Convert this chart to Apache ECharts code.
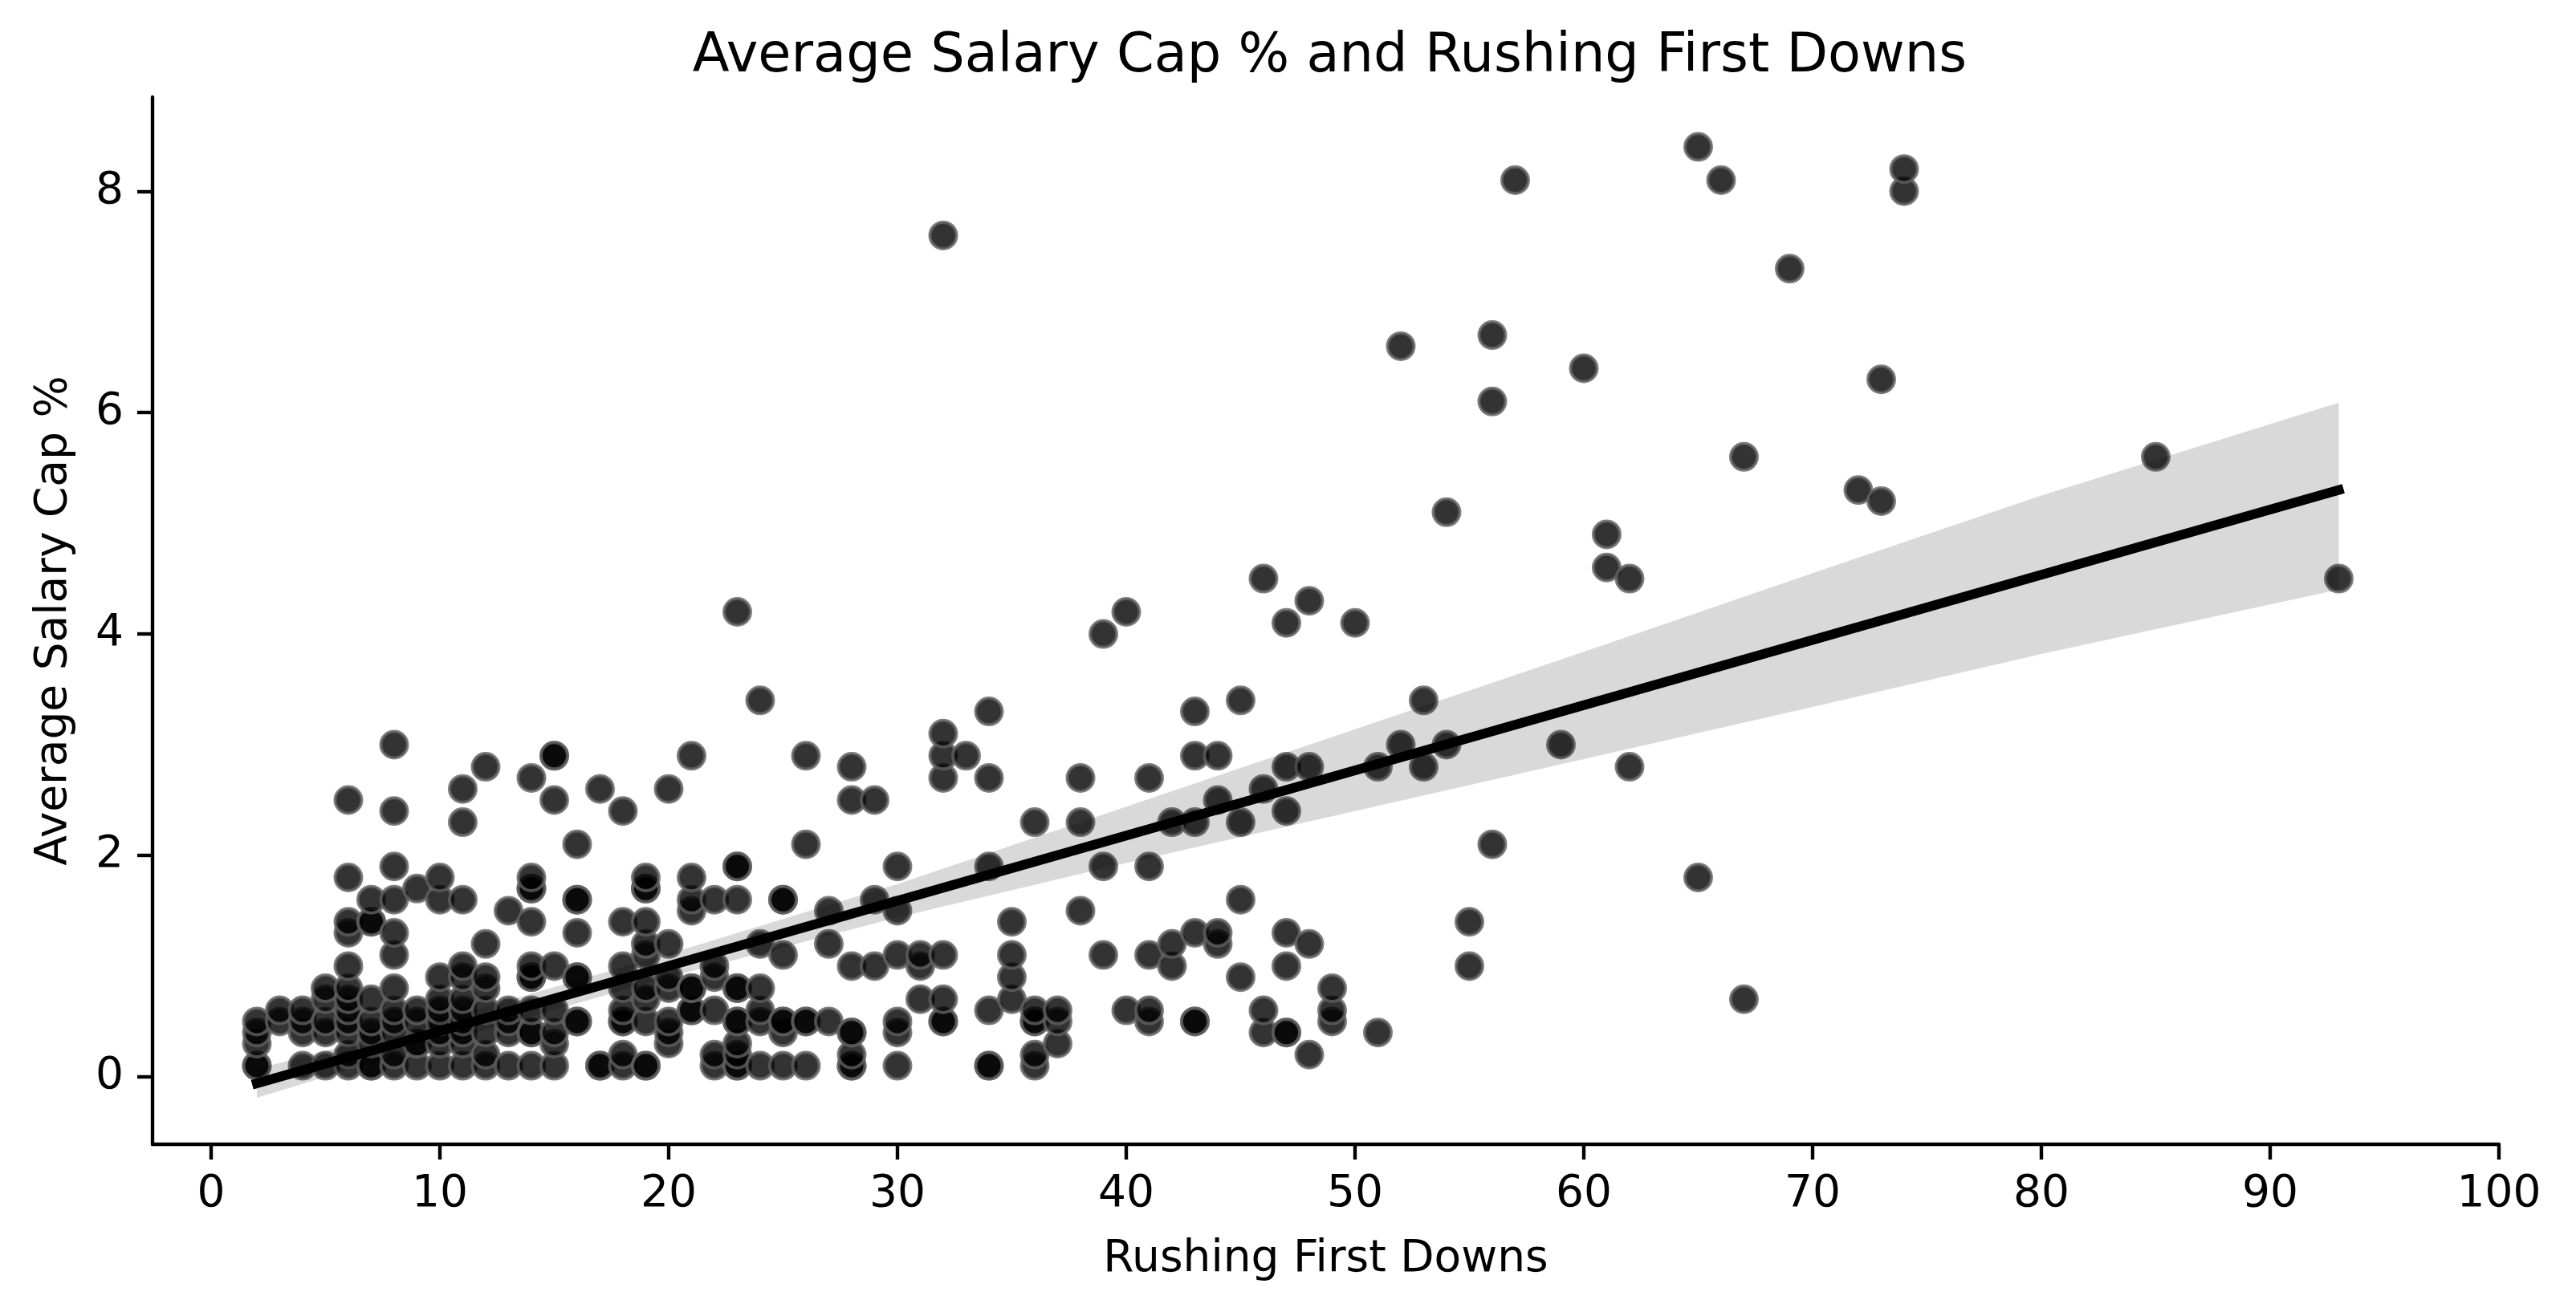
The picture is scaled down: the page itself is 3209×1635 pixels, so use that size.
<!DOCTYPE html>
<html>
<head>
<meta charset="utf-8">
<title>Average Salary Cap % and Rushing First Downs</title>
<script src="https://cdn.jsdelivr.net/npm/echarts@6/dist/echarts.min.js"></script>
<style>
  html, body { margin: 0; padding: 0; background: #ffffff; }
  #main { width: 3209px; height: 1635px; }
</style>
</head>
<body>
<div id="main"></div>
<script>
// rushing first downs (one entry per column of dots)
const colX = [2, 3, 4, 5, 6, 7, 8, 9, 10, 11, 12, 13, 14, 15, 16, 17, 18, 19, 20,
  21, 22, 23, 24, 25, 26, 27, 28, 29, 30, 31, 32, 33, 34, 35, 36, 37, 38, 39, 40,
  41, 42, 43, 44, 45, 46, 47, 48, 49, 50, 51, 52, 53, 54, 55, 56, 57, 59, 60, 61,
  62, 65, 66, 67, 69, 72, 73, 74, 85, 93];
// average salary cap % of the players in each column
const colY = [
  [0.1, 0.1, 0.3, 0.4, 0.5],                                   // 2
  [0.5, 0.6],                                                  // 3
  [0.1, 0.4, 0.5, 0.6],                                        // 4
  [0.1, 0.4, 0.5, 0.7, 0.8],                                   // 5
  [0.1, 0.2, 0.4, 0.5, 0.6, 0.7, 0.8, 1.0, 1.3, 1.4, 1.8, 2.5], // 6
  [0.1, 0.1, 0.3, 0.4, 0.5, 0.7, 1.4, 1.4, 1.6],               // 7
  [0.1, 0.2, 0.4, 0.5, 0.6, 0.8, 1.1, 1.3, 1.6, 1.9, 2.4, 3.0], // 8
  [0.1, 0.3, 0.3, 0.5, 0.6, 1.7],                              // 9
  [0.1, 0.3, 0.4, 0.5, 0.6, 0.7, 0.9, 1.6, 1.8],               // 10
  [0.1, 0.3, 0.4, 0.5, 0.6, 0.7, 0.9, 1.0, 1.6, 2.3, 2.6],     // 11
  [0.1, 0.2, 0.4, 0.6, 0.8, 0.9, 1.2, 2.8],                    // 12
  [0.1, 0.4, 0.5, 0.6, 1.5],                                   // 13
  [0.1, 0.4, 0.4, 0.6, 0.9, 0.9, 1.0, 1.4, 1.7, 1.7, 1.8, 2.7], // 14
  [0.1, 0.3, 0.4, 0.6, 1.0, 2.5, 2.9, 2.9],                    // 15
  [0.5, 0.5, 0.9, 0.9, 1.3, 1.6, 1.6, 2.1],                    // 16
  [0.1, 0.1, 2.6],                                             // 17
  [0.1, 0.2, 0.5, 0.5, 0.6, 0.8, 1.0, 1.4, 2.4],               // 18
  [0.1, 0.1, 0.5, 0.7, 0.8, 1.1, 1.2, 1.4, 1.7, 1.7, 1.8],     // 19
  [0.3, 0.4, 0.5, 0.8, 0.9, 1.2, 2.6],                         // 20
  [0.6, 0.6, 0.8, 0.8, 1.5, 1.6, 1.8, 2.9],                    // 21
  [0.1, 0.2, 0.6, 0.9, 1.0, 1.6],                              // 22
  [0.1, 0.1, 0.2, 0.3, 0.5, 0.5, 0.8, 0.8, 1.6, 1.9, 1.9, 4.2], // 23
  [0.1, 0.5, 0.6, 0.8, 1.2, 3.4],                              // 24
  [0.1, 0.4, 0.5, 0.5, 1.1, 1.6, 1.6],                         // 25
  [0.1, 0.5, 0.5, 2.1, 2.9],                                   // 26
  [0.5, 1.2, 1.5],                                             // 27
  [0.1, 0.1, 0.2, 0.4, 0.4, 1.0, 2.5, 2.8],                    // 28
  [1.0, 1.6, 2.5],                                             // 29
  [0.1, 0.4, 0.5, 1.1, 1.5, 1.9],                              // 30
  [0.7, 1.0, 1.1],                                             // 31
  [0.5, 0.5, 0.7, 1.1, 2.7, 2.9, 3.1, 7.6],                    // 32
  [2.9],                                                       // 33
  [0.1, 0.1, 0.6, 1.9, 2.7, 3.3],                              // 34
  [0.7, 0.9, 1.1, 1.4],                                        // 35
  [0.1, 0.2, 0.5, 0.5, 0.6, 2.3],                              // 36
  [0.3, 0.5, 0.6],                                             // 37
  [1.5, 2.3, 2.7],                                             // 38
  [1.1, 1.9, 4.0],                                             // 39
  [0.6, 4.2],                                                  // 40
  [0.5, 0.6, 1.1, 1.9, 2.7],                                   // 41
  [1.0, 1.2, 2.3],                                             // 42
  [0.5, 0.5, 1.3, 2.3, 2.9, 3.3],                              // 43
  [1.2, 1.3, 2.5, 2.9],                                        // 44
  [0.9, 1.6, 2.3, 3.4],                                        // 45
  [0.4, 0.6, 2.6, 4.5],                                        // 46
  [0.4, 0.4, 1.0, 1.3, 2.4, 2.8, 4.1],                         // 47
  [0.2, 1.2, 2.8, 4.3],                                        // 48
  [0.5, 0.6, 0.8],                                             // 49
  [4.1],                                                       // 50
  [0.4, 2.8],                                                  // 51
  [3.0, 6.6],                                                  // 52
  [2.8, 3.4],                                                  // 53
  [3.0, 5.1],                                                  // 54
  [1.0, 1.4],                                                  // 55
  [2.1, 6.1, 6.7],                                             // 56
  [8.1],                                                       // 57
  [3.0],                                                       // 59
  [6.4],                                                       // 60
  [4.6, 4.9],                                                  // 61
  [2.8, 4.5],                                                  // 62
  [1.8, 8.4],                                                  // 65
  [8.1],                                                       // 66
  [0.7, 5.6],                                                  // 67
  [7.3],                                                       // 69
  [5.3],                                                       // 72
  [5.2, 6.3],                                                  // 73
  [8.0, 8.2],                                                  // 74
  [5.6],                                                       // 85
  [4.5]                                                        // 93
];

// fitted regression line (end points) and its confidence band
const fitX = [2, 93];
const fitY = [-0.06, 5.30];
const bandX = [2, 10, 20, 30, 40, 50, 60, 70, 80, 93];
const bandLo = [-0.19, 0.31, 0.90, 1.44, 1.93, 2.40, 2.87, 3.34, 3.82, 4.40];
const bandHi = [0.07, 0.51, 1.11, 1.74, 2.44, 3.14, 3.84, 4.55, 5.25, 6.09];

// tick labels
const xTicks = [0, 10, 20, 30, 40, 50, 60, 70, 80, 90, 100];
const yTicks = [0, 2, 4, 6, 8];

// axes extents (matplotlib style margins)
const xMin = -2.56, xMax = 100;
const yMin = -0.61, yMax = 8.85;

// plot box in pixels
const W = 3209, H = 1635;
const gLeft = 190, gTop = 121, gRight = 96, gBottom = 209;
const gW = W - gLeft - gRight;
const gH = H - gTop - gBottom;
const pxX = gW / (xMax - xMin);
const pxY = gH / (yMax - yMin);

// second grid only carries the ticks, spanning the tick range
const tLeft = gLeft + (xTicks[0] - xMin) * pxX;
const tRight = gRight + (xMax - xTicks[xTicks.length - 1]) * pxX;
const tTop = gTop + (yMax - yTicks[yTicks.length - 1]) * pxY;
const tBottom = gBottom + (yTicks[0] - yMin) * pxY;

const FONT = 'DejaVu Sans';

var points = [];
colX.forEach(function (x, i) {
  colY[i].forEach(function (y) { points.push([x, y]); });
});
var bandData = bandX.map(function (x, i) { return [x, bandLo[i], bandHi[i]]; });
var fitLine = fitX.map(function (x, i) { return [x, fitY[i]]; });

// one polygon for the whole band: upper edge out, lower edge back
function renderBand(params, api) {
  if (params.dataIndexInside !== 0) return null;
  var n = params.dataInsideLength;
  var upper = [], lower = [];
  for (var i = 0; i < n; i++) {
    upper.push(api.coord([api.value(0, i), api.value(2, i)]));
    lower.push(api.coord([api.value(0, i), api.value(1, i)]));
  }
  return {
    type: 'polygon',
    shape: { points: upper.concat(lower.reverse()) },
    style: { fill: 'rgba(0,0,0,0.15)' },
    silent: true
  };
}

var chart = echarts.init(document.getElementById('main'), null, { renderer: 'canvas', width: W, height: H });

var option = {
  animation: false,
  backgroundColor: '#ffffff',
  textStyle: { fontFamily: FONT },
  title: {
    text: 'Average Salary Cap % and Rushing First Downs',
    left: gLeft + gW / 2,
    top: 33,
    textAlign: 'center',
    textStyle: { fontFamily: FONT, fontSize: 67, fontWeight: 'normal', color: '#000' }
  },
  grid: [
    { left: gLeft, top: gTop, right: gRight, bottom: gBottom, containLabel: false },
    { left: tLeft, top: tTop, right: tRight, bottom: tBottom, containLabel: false }
  ],
  xAxis: [
    {
      type: 'value', gridIndex: 0, min: xMin, max: xMax,
      name: 'Rushing First Downs', nameLocation: 'middle', nameGap: 116,
      nameTextStyle: { fontFamily: FONT, fontSize: 55, color: '#000' },
      axisLine: { show: true, onZero: false, lineStyle: { color: '#000', width: 4.4 } },
      axisTick: { show: false }, axisLabel: { show: false }, splitLine: { show: false }
    },
    {
      type: 'value', gridIndex: 1, min: xTicks[0], max: xTicks[xTicks.length - 1], interval: 10,
      offset: (yTicks[0] - yMin) * pxY,
      axisLine: { show: false, onZero: false },
      axisTick: { show: true, length: 19, lineStyle: { color: '#000', width: 4.4 } },
      axisLabel: { show: true, margin: 35, fontFamily: FONT, fontSize: 55, color: '#000' },
      splitLine: { show: false }
    }
  ],
  yAxis: [
    {
      type: 'value', gridIndex: 0, min: yMin, max: yMax,
      name: 'Average Salary Cap %', nameLocation: 'middle', nameGap: 95,
      nameTextStyle: { fontFamily: FONT, fontSize: 55, color: '#000' },
      axisLine: { show: true, onZero: false, lineStyle: { color: '#000', width: 4.4 } },
      axisTick: { show: false }, axisLabel: { show: false }, splitLine: { show: false }
    },
    {
      type: 'value', gridIndex: 1, min: yTicks[0], max: yTicks[yTicks.length - 1], interval: 2,
      offset: (xTicks[0] - xMin) * pxX,
      axisLine: { show: false, onZero: false },
      axisTick: { show: true, length: 19, lineStyle: { color: '#000', width: 4.4 } },
      axisLabel: { show: true, margin: 36, fontFamily: FONT, fontSize: 55, color: '#000' },
      splitLine: { show: false }
    }
  ],
  series: [
    {
      // the players
      type: 'scatter', xAxisIndex: 0, yAxisIndex: 0, z: 2,
      data: points, symbol: 'circle', symbolSize: 33, silent: true,
      itemStyle: { color: '#000000', borderColor: '#606060', borderWidth: 4, opacity: 0.8 }
    },
    {
      // confidence band of the fit
      type: 'custom', xAxisIndex: 0, yAxisIndex: 0, z: 3,
      data: bandData, encode: { x: 0, y: [1, 2] },
      renderItem: renderBand, silent: true, clip: true
    },
    {
      // regression line
      type: 'line', xAxisIndex: 0, yAxisIndex: 0, z: 4,
      data: fitLine, symbol: 'none', silent: true,
      lineStyle: { color: '#000000', width: 12, cap: 'square' }
    }
  ]
};

chart.setOption(option);
</script>
</body>
</html>
